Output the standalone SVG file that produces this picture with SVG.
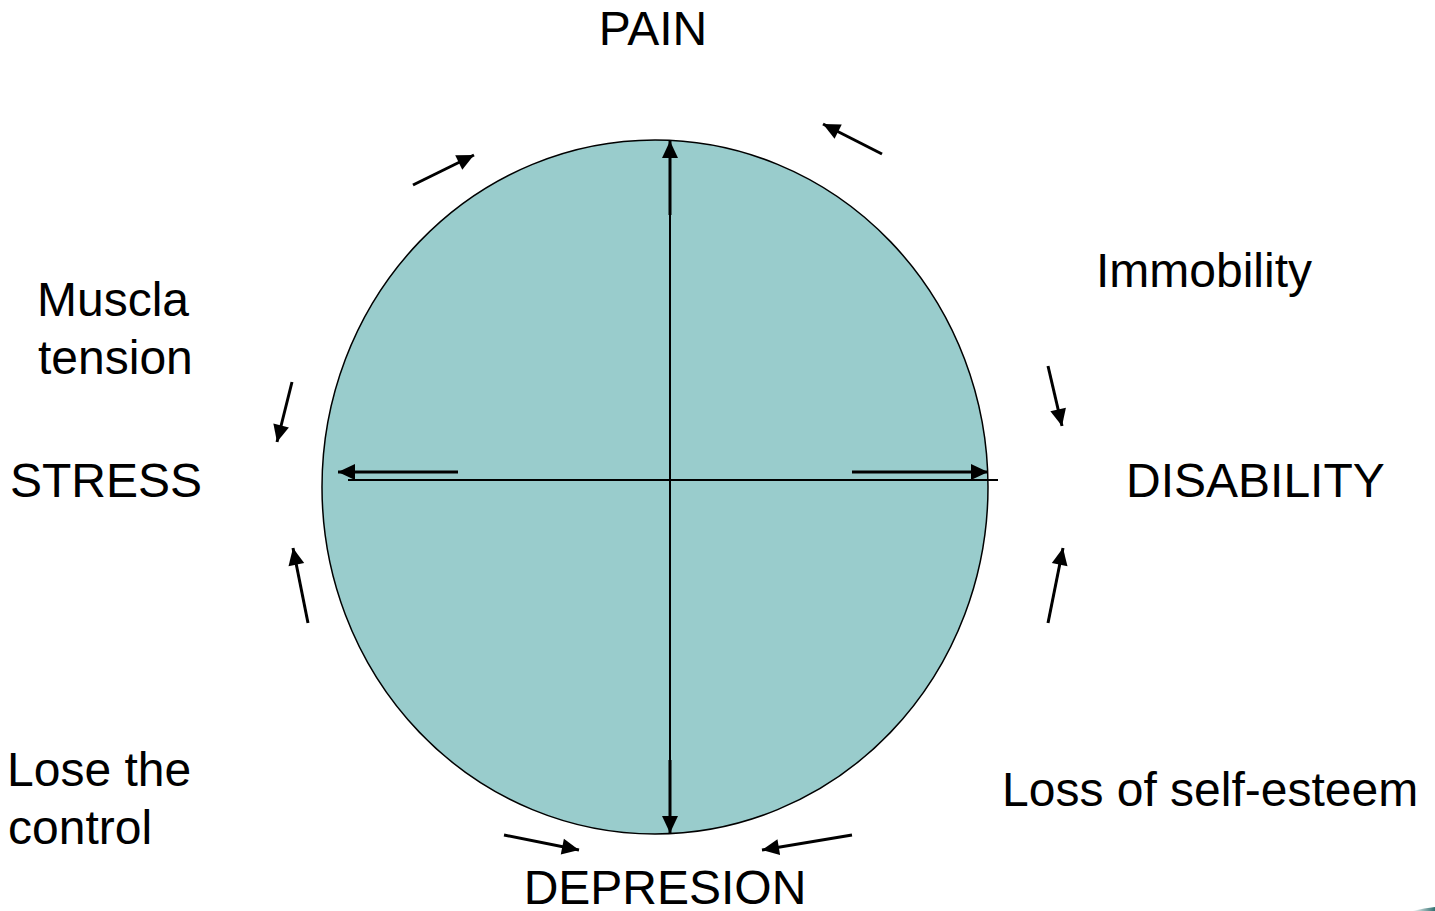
<svg xmlns="http://www.w3.org/2000/svg" width="1435" height="911" viewBox="0 0 1435 911">
  <style>
    .lbl { font-family: "Liberation Sans", Arial, sans-serif; font-size: 48px; fill: #000; }
    .thin { stroke: #000; stroke-width: 2; fill: none; }
    .thick { stroke: #000; stroke-width: 3; fill: none; marker-end: url(#ah); }
  </style>
  <defs>
    <marker id="ah" markerUnits="userSpaceOnUse" markerWidth="20" markerHeight="20" viewBox="0 0 20 20" refX="18" refY="10" orient="auto">
      <path d="M1,2 L18,10 L1,18 Z" fill="#000"/>
    </marker>
    <linearGradient id="corner" x1="0" y1="0" x2="1" y2="0">
      <stop offset="0" stop-color="#ffffff"/>
      <stop offset="1" stop-color="#2f6f6f"/>
    </linearGradient>
  </defs>
  <rect x="0" y="0" width="1435" height="911" fill="#ffffff"/>

  <g id="circle">
    <ellipse cx="655" cy="487" rx="333" ry="347" fill="#99CCCC" stroke="#000" stroke-width="1.5"/>
  </g>

  <g id="connectors">
    <line class="thin" x1="670" y1="142" x2="670" y2="832"/>
    <line class="thin" x1="348" y1="480" x2="998" y2="480"/>
    <line class="thick" x1="670" y1="215" x2="670" y2="141"/>
    <line class="thick" x1="670" y1="760" x2="670" y2="833"/>
    <line class="thick" x1="458" y1="472" x2="338" y2="472"/>
    <line class="thick" x1="852" y1="472" x2="988" y2="472"/>
    <line class="thick" x1="413" y1="185" x2="474" y2="155"/>
    <line class="thick" x1="882" y1="154" x2="823" y2="124"/>
    <line class="thick" x1="292" y1="382" x2="277" y2="442"/>
    <line class="thick" x1="308" y1="623" x2="293" y2="548"/>
    <line class="thick" x1="1048" y1="366" x2="1062" y2="426"/>
    <line class="thick" x1="1048" y1="623" x2="1063" y2="548"/>
    <line class="thick" x1="504" y1="835" x2="579" y2="850"/>
    <line class="thick" x1="852" y1="835" x2="762" y2="850"/>
  </g>

  <g id="pain"><text class="lbl" x="653" y="45" text-anchor="middle">PAIN</text></g>
  <g id="immobility"><text class="lbl" x="1096" y="287">Immobility</text></g>
  <g id="disability"><text class="lbl" x="1126" y="497">DISABILITY</text></g>
  <g id="selfesteem"><text class="lbl" x="1002" y="806">Loss of self-esteem</text></g>
  <g id="depresion"><text class="lbl" x="665" y="904" text-anchor="middle">DEPRESION</text></g>
  <g id="losecontrol">
    <text class="lbl" x="7" y="786">Lose the</text>
    <text class="lbl" x="8" y="844">control</text>
  </g>
  <g id="stress"><text class="lbl" x="10" y="497">STRESS</text></g>
  <g id="muscla">
    <text class="lbl" x="37" y="316">Muscla</text>
    <text class="lbl" x="38" y="374">tension</text>
  </g>

  <path d="M1412,911 Q1425,908 1435,907 L1435,911 Z" fill="url(#corner)"/>
</svg>
